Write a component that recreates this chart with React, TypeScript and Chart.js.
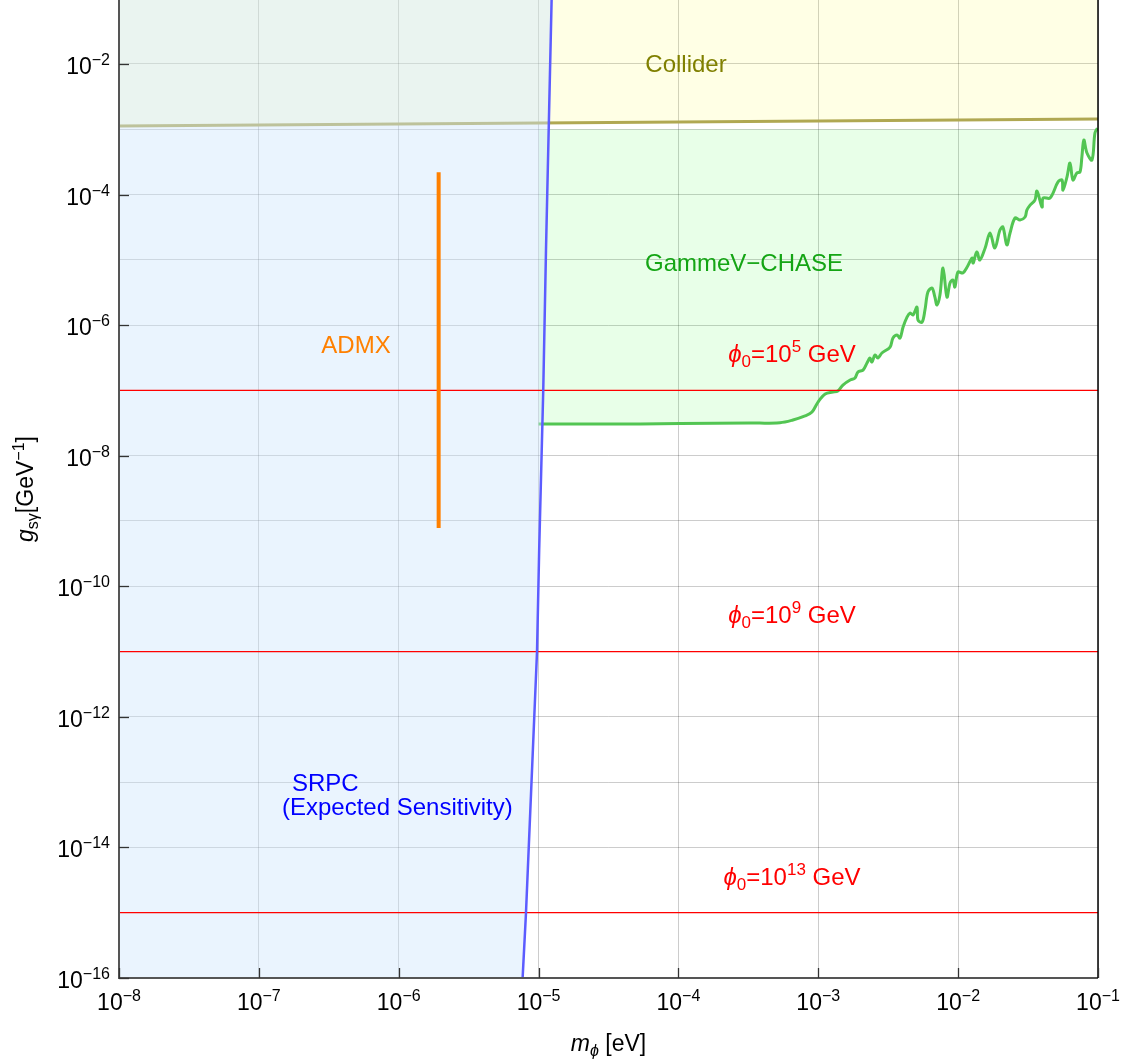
import React, { useEffect, useRef } from "react";
import { Chart, registerables } from "chart.js";

Chart.register(...registerables);

const FONT = '"Liberation Sans", Arial, Helvetica, sans-serif';

// axis ranges
const massMin = 1e-8;
const massMax = 1e-1;
const couplingMin = 1e-16;
const couplingMax = 0.0955;

// tick decades (exponents)
const xTickExps = [-8, -7, -6, -5, -4, -3, -2, -1];
const yGridExps = [-16, -15, -14, -13, -12, -11, -10, -9, -8, -7, -6, -5, -4, -3, -2];
const yLabelExps = [-16, -14, -12, -10, -8, -6, -4, -2];

// Collider bound (fill above)
const colliderMass = [1e-8, 1e-1];
const colliderCoupling = [1.12e-3, 1.44e-3];

// SRPC expected sensitivity (fill to the left)
const srpcMass = [7.69e-6, 8.13e-6, 9.75e-6, 1.01e-5, 1.08e-5, 1.13e-5, 1.24e-5];
const srpcCoupling = [1e-16, 1e-15, 1e-11, 3.59e-10, 1e-7, 1.41e-5, 0.1];

// ADMX
const admxMass = [1.93e-6, 1.93e-6];
const admxCoupling = [2.2e-4, 7.8e-10];

// GammeV-CHASE (fill up to the top value)
const gammevTop = 1e-3;
const gammevMass = [
  1.0e-5, 2.75e-5, 1.03e-4, 3.25e-4, 5.32e-4, 6.59e-4, 8.04e-4, 9.02e-4, 9.96e-4,
  1.12e-3, 1.27e-3, 1.38e-3, 1.5e-3, 1.69e-3, 1.83e-3, 1.92e-3, 2.09e-3, 2.23e-3,
  2.34e-3, 2.42e-3, 2.54e-3, 2.67e-3, 2.85e-3, 3.26e-3, 3.42e-3, 3.66e-3, 3.84e-3,
  4.04e-3, 4.31e-3, 4.53e-3, 4.75e-3, 5.08e-3, 5.16e-3, 5.52e-3, 5.79e-3, 6.08e-3,
  6.5e-3, 6.82e-3, 7.06e-3, 7.41e-3, 7.8e-3, 8.32e-3, 8.75e-3, 9.18e-3, 9.48e-3,
  9.97e-3, 1.08e-2, 1.16e-2, 1.26e-2, 1.28e-2, 1.36e-2, 1.43e-2, 1.56e-2, 1.69e-2,
  1.83e-2, 1.99e-2, 2.09e-2, 2.23e-2, 2.35e-2, 2.55e-2, 2.77e-2, 3.01e-2, 3.1e-2,
  3.27e-2, 3.54e-2, 3.66e-2, 3.98e-2, 4.05e-2, 4.54e-2, 5.18e-2, 5.53e-2, 5.62e-2,
  6.0e-2, 6.31e-2, 6.62e-2, 7.06e-2, 7.43e-2, 7.67e-2, 7.92e-2, 8.34e-2, 9.06e-2,
  9.51e-2, 9.9e-2,
];
const gammevCoupling = [
  3.05e-8, 3.05e-8, 3.1e-8, 3.16e-8, 3.2e-8, 3.52e-8, 4.06e-8, 4.67e-8, 6.64e-8,
  8.81e-8, 9.44e-8, 9.8e-8, 1.21e-7, 1.44e-7, 1.55e-7, 1.91e-7, 2.05e-7, 2.63e-7,
  3.13e-7, 2.72e-7, 3.48e-7, 3.13e-7, 3.74e-7, 4.62e-7, 6.34e-7, 7.05e-7, 6.34e-7,
  9.35e-7, 1.33e-6, 1.53e-6, 1.43e-6, 1.89e-6, 1.2e-6, 1.11e-6, 1.7e-6, 3.21e-6,
  3.7e-6, 2.69e-6, 2.03e-6, 2.89e-6, 7.5e-6, 2.69e-6, 4.42e-6, 4.91e-6, 3.83e-6,
  6.5e-6, 6.28e-6, 7.77e-6, 1.07e-5, 8.93e-6, 1.32e-5, 9.93e-6, 1.52e-5, 2.58e-5,
  1.52e-5, 2.86e-5, 3.18e-5, 1.69e-5, 2.58e-5, 4.37e-5, 4.07e-5, 4.53e-5, 5.79e-5,
  6.9e-5, 8.24e-5, 1.13e-4, 6.44e-5, 8.85e-5, 8.85e-5, 1.56e-4, 1.67e-4, 1.17e-4,
  1.85e-4, 3.04e-4, 1.67e-4, 2.14e-4, 2.21e-4, 3.76e-4, 6.84e-4, 4.33e-4, 3.38e-4,
  8.75e-4, 1.04e-3,
];

// phi0 reference lines
const phi0Coupling = [1e-7, 1e-11, 1e-15];
const phi0Exponent = ["5", "9", "13"];

type Part = { t: string; size: number; italic?: boolean; dy?: number };

function fontOf(p: Part) {
  return `${p.italic ? "italic " : ""}${p.size}px ${FONT}`;
}

function drawRich(
  ctx: CanvasRenderingContext2D,
  parts: Part[],
  x: number,
  y: number,
  align: "left" | "center" | "right",
  color: string
) {
  let total = 0;
  const widths = parts.map((p) => {
    ctx.font = fontOf(p);
    const w = ctx.measureText(p.t).width;
    total += w;
    return w;
  });
  let cx = x;
  if (align === "center") cx = x - total / 2;
  if (align === "right") cx = x - total;
  ctx.fillStyle = color;
  ctx.textAlign = "left";
  ctx.textBaseline = "alphabetic";
  parts.forEach((p, i) => {
    ctx.font = fontOf(p);
    ctx.fillText(p.t, cx, y + (p.dy || 0));
    cx += widths[i];
  });
}

const pts = (xs: number[], ys: number[]) => xs.map((x, i) => ({ x, y: ys[i] }));

const decorPlugin = {
  id: "decor",
  afterDraw(chart: any) {
    const ctx: CanvasRenderingContext2D = chart.ctx;
    const xs = chart.scales.x;
    const ys = chart.scales.y;
    const a = chart.chartArea;
    ctx.save();

    // frame
    ctx.strokeStyle = "#555555";
    ctx.lineWidth = 2;
    ctx.beginPath();
    ctx.moveTo(a.left, a.top);
    ctx.lineTo(a.left, a.bottom);
    ctx.lineTo(a.right, a.bottom);
    ctx.stroke();
    ctx.strokeStyle = "#000000";
    ctx.lineWidth = 1.5;
    ctx.beginPath();
    ctx.moveTo(a.right, a.top);
    ctx.lineTo(a.right, a.bottom);
    ctx.stroke();

    // tick marks
    ctx.strokeStyle = "#333333";
    ctx.lineWidth = 1.3;
    xTickExps.forEach((e) => {
      const px = Math.round(xs.getPixelForValue(Math.pow(10, e))) + 0.5;
      ctx.beginPath();
      ctx.moveTo(px, a.bottom);
      ctx.lineTo(px, a.bottom - 10);
      ctx.stroke();
    });
    yLabelExps.forEach((e) => {
      const py = Math.round(ys.getPixelForValue(Math.pow(10, e))) + 0.5;
      ctx.beginPath();
      ctx.moveTo(a.left, py);
      ctx.lineTo(a.left + 10, py);
      ctx.stroke();
    });

    // tick labels
    xTickExps.forEach((e) => {
      const px = xs.getPixelForValue(Math.pow(10, e));
      drawRich(
        ctx,
        [
          { t: "10", size: 23 },
          { t: "\u2212" + String(-e), size: 16, dy: -9 },
        ],
        px,
        a.bottom + 32,
        "center",
        "#000000"
      );
    });
    yLabelExps.forEach((e) => {
      const py = ys.getPixelForValue(Math.pow(10, e));
      drawRich(
        ctx,
        [
          { t: "10", size: 23 },
          { t: "\u2212" + String(-e), size: 16, dy: -9 },
        ],
        a.left - 9,
        py + 10,
        "right",
        "#000000"
      );
    });

    // axis titles
    drawRich(
      ctx,
      [
        { t: "m", size: 23, italic: true },
        { t: "\u03D5", size: 16, italic: true, dy: 5 },
        { t: " [eV]", size: 23 },
      ],
      (a.left + a.right) / 2,
      1051,
      "center",
      "#000000"
    );
    ctx.save();
    ctx.translate(33, 489);
    ctx.rotate(-Math.PI / 2);
    drawRich(
      ctx,
      [
        { t: "g", size: 23, italic: true },
        { t: "s\u03B3", size: 16, dy: 5 },
        { t: "[GeV", size: 23 },
        { t: "\u22121", size: 16, dy: -9 },
        { t: "]", size: 23 },
      ],
      0,
      0,
      "center",
      "#000000"
    );
    ctx.restore();

    // region labels
    drawRich(ctx, [{ t: "Collider", size: 24 }], 686, 72, "center", "#808000");
    drawRich(ctx, [{ t: "GammeV\u2212CHASE", size: 24 }], 744, 271, "center", "#14a514");
    drawRich(ctx, [{ t: "ADMX", size: 24 }], 356, 353, "center", "#ff8000");
    drawRich(ctx, [{ t: "SRPC", size: 24 }], 292, 791, "left", "#0000ff");
    drawRich(ctx, [{ t: "(Expected Sensitivity)", size: 24 }], 282, 815, "left", "#0000ff");

    const phiY = [362, 623, 885];
    phi0Exponent.forEach((ex, i) => {
      drawRich(
        ctx,
        [
          { t: "\u03D5", size: 24, italic: true },
          { t: "0", size: 17, dy: 5 },
          { t: "=10", size: 24 },
          { t: ex, size: 17, dy: -10 },
          { t: " GeV", size: 24 },
        ],
        792,
        phiY[i],
        "center",
        "#ff0000"
      );
    });

    ctx.restore();
  },
};

export default function App() {
  const ref = useRef<HTMLCanvasElement | null>(null);

  useEffect(() => {
    if (!ref.current) return;
    const redLines = phi0Coupling.map((c) => ({
      data: [
        { x: massMin, y: c },
        { x: massMax, y: c },
      ],
      borderColor: "#ff0000",
      borderWidth: 1.2,
      pointRadius: 0,
      fill: false,
      order: 6,
    }));

    const chart = new Chart(ref.current, {
      type: "line",
      data: {
        datasets: [
          {
            data: pts(colliderMass, colliderCoupling),
            borderColor: "rgb(176,168,82)",
            borderWidth: 3,
            backgroundColor: "rgba(255,255,0,0.1)",
            fill: "end",
            pointRadius: 0,
            order: 10,
          },
          {
            data: pts(gammevMass, gammevCoupling),
            borderColor: "rgb(82,197,82)",
            borderWidth: 3,
            borderJoinStyle: "round",
            tension: 0.35,
            backgroundColor: "rgba(0,255,0,0.09)",
            fill: { value: gammevTop },
            pointRadius: 0,
            order: 9,
          },
          {
            data: [{ x: massMin, y: couplingMin }, ...pts(srpcMass, srpcCoupling)],
            borderWidth: 0,
            borderColor: "rgba(0,0,0,0)",
            backgroundColor: "rgba(206,229,253,0.43)",
            fill: "end",
            pointRadius: 0,
            order: 8,
          },
          ...redLines,
          {
            data: pts(srpcMass, srpcCoupling),
            borderColor: "rgb(92,92,255)",
            borderWidth: 2.5,
            fill: false,
            pointRadius: 0,
            order: 5,
          },
          {
            data: pts(admxMass, admxCoupling),
            borderColor: "rgb(255,128,0)",
            borderWidth: 4,
            borderCapStyle: "butt",
            fill: false,
            pointRadius: 0,
            order: 4,
          },
        ] as any,
      },
      options: {
        animation: false,
        responsive: true,
        maintainAspectRatio: false,
        layout: { padding: { left: 119, right: 30, top: 0, bottom: 85 } },
        plugins: {
          legend: { display: false },
          tooltip: { enabled: false },
        },
        elements: { line: { tension: 0 } },
        scales: {
          x: {
            type: "logarithmic",
            min: massMin,
            max: massMax,
            border: { display: false },
            grid: { color: "rgba(0,0,0,0.2)", lineWidth: 1, drawTicks: false },
            ticks: { display: false },
            afterBuildTicks: (s: any) => {
              s.ticks = xTickExps.map((e) => ({ value: Math.pow(10, e) }));
            },
            afterFit: (s: any) => {
              s.height = 0;
            },
          },
          y: {
            type: "logarithmic",
            min: couplingMin,
            max: couplingMax,
            border: { display: false },
            grid: { color: "rgba(0,0,0,0.2)", lineWidth: 1, drawTicks: false },
            ticks: { display: false },
            afterBuildTicks: (s: any) => {
              s.ticks = yGridExps.map((e) => ({ value: Math.pow(10, e) }));
            },
            afterFit: (s: any) => {
              s.width = 0;
            },
          },
        },
      } as any,
      plugins: [decorPlugin],
    });
    return () => chart.destroy();
  }, []);

  return (
    <div style={{ position: "absolute", left: 0, top: 0, width: 1128, height: 1063, background: "#ffffff" }}>
      <canvas ref={ref} />
    </div>
  );
}
